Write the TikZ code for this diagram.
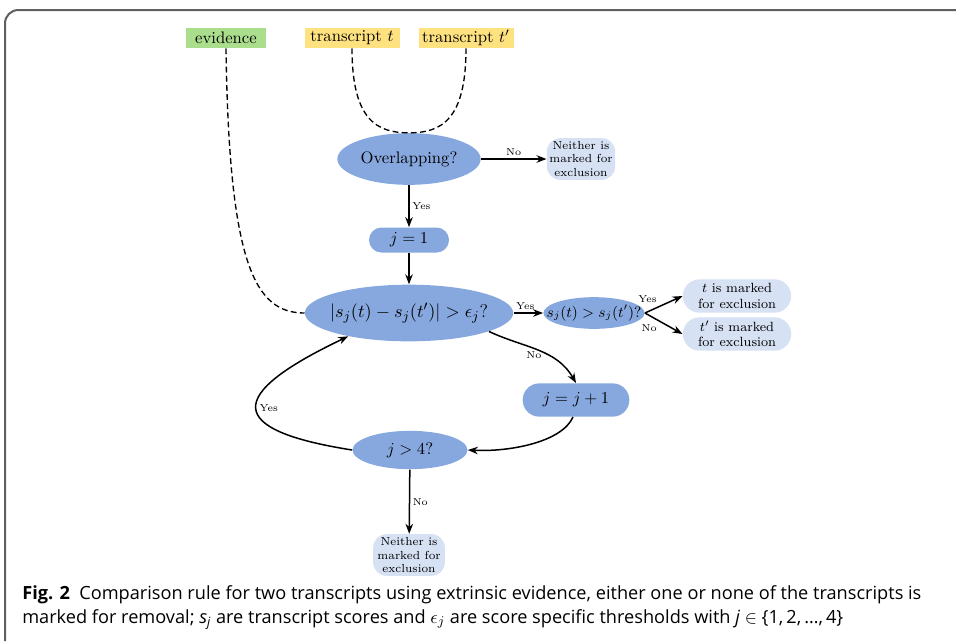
\documentclass[tikz,border=0pt]{standalone}
\usepackage{fontspec}
\newfontfamily\capfont{Open Sans}
\usetikzlibrary{shapes.geometric,arrows.meta}
\definecolor{decblue}{RGB}{134,168,222}
\definecolor{endblue}{RGB}{214,225,244}
\definecolor{evgreen}{RGB}{170,222,140}
\definecolor{tryellow}{RGB}{255,226,128}
\definecolor{framegray}{RGB}{95,95,95}
\begin{document}
\begin{tikzpicture}[x=0.6pt, y=-0.6pt,
    decision/.style={ellipse, fill=decblue, inner sep=0pt},
    process/.style={rectangle, fill=decblue, inner sep=0pt},
    outcome/.style={rectangle, fill=endblue, align=center, inner sep=0pt},
    source/.style={rectangle, inner sep=0pt, minimum height=12pt, minimum width=48pt},
    flow/.style={-{Stealth[length=6pt,width=4.5pt]}, line width=0.9pt},
    link/.style={dash pattern=on 3.5pt off 2pt, line width=0.8pt},
    lbl/.style={font=\fontsize{6}{7}\selectfont, inner sep=1.5pt}]
    \useasboundingbox (0,0) rectangle (956,641);
    \draw[framegray, line width=1.2pt, rounded corners=8pt] (5,641) -- (5,10) -- (956,10);

    % Nodes (inputs)
    \node[source, fill=evgreen] (evidence) at (226,38) {evidence};
    \node[source, fill=tryellow, minimum width=57pt] (tt) at (352,38) {transcript $t$};
    \node[source, fill=tryellow, minimum width=57pt] (ttp) at (466,38) {transcript $t'$};

    % Nodes (decisions and steps)
    \node[decision, minimum width=86pt, minimum height=31pt] (overlap) at (409,159) {Overlapping?};
    \node[outcome, font=\scriptsize, minimum width=41pt, minimum height=25pt, rounded corners=8pt] (neither) at (581,159) {Neither is\\marked for\\exclusion};
    \node[process, minimum width=48pt, minimum height=15pt, rounded corners=7.5pt] (jone) at (409,240) {$j=1$};
    \node[decision, font=\fontsize{11}{13}\selectfont, minimum width=125pt, minimum height=34pt, inner xsep=-5pt] (diff) at (409,313) {$|s_j(t)-s_j(t')|>\epsilon_j$?};
    \node[decision, font=\small, minimum width=60pt, minimum height=19pt, inner xsep=-7pt] (cmp) at (594,313) {$s_j(t)>s_j(t')$?};
    \node[outcome, font=\footnotesize, minimum width=65pt, minimum height=20pt, rounded corners=10pt] (tmark) at (737,296) {$t$ is marked\\for exclusion};
    \node[outcome, font=\footnotesize, minimum width=65pt, minimum height=20pt, rounded corners=10pt] (tpmark) at (737,334) {$t'$ is marked\\for exclusion};
    \node[process, minimum width=64pt, minimum height=20pt, rounded corners=10pt] (incr) at (576,400) {$j=j+1$};
    \node[decision, minimum width=69pt, minimum height=23pt] (jcheck) at (410,450) {$j>4$?};
    \node[outcome, font=\scriptsize, minimum width=43pt, minimum height=25pt, rounded corners=8pt] (neitherb) at (409,555) {Neither is\\marked for\\exclusion};

    % Edges (dashed inputs)
    \draw[link] (evidence.south) .. controls (229,265) and (255,313) .. (diff.west);
    \draw[link] (tt.south) .. controls +(0,72) and +(-32,0) .. (overlap.north) .. controls +(32,0) and +(0,72) .. (ttp.south);

    % Edges (flow)
    \draw[flow] (overlap) -- node[lbl, above] {No} (neither);
    \draw[flow] (overlap) -- node[lbl, right] {Yes} (jone);
    \draw[flow] (jone) -- (diff);
    \draw[flow] (diff) -- node[lbl, above, pos=0.4] {Yes} (cmp);
    \draw[flow] (cmp.east) -- node[lbl, above left, pos=0.4] {Yes} (tmark.west);
    \draw[flow] (cmp.east) -- node[lbl, below left, pos=0.4] {No} (tpmark.west);
    \draw[flow] (diff.-13) to[out=-25, in=120] node[lbl, below, pos=0.45] {No} (incr.north);
    \draw[flow] (incr.-100) .. controls (562,442) and (510,452) .. (jcheck.east);
    \draw[flow] (jcheck.west) .. controls (225,430) and (225,395) .. node[lbl, right, pos=0.5] {Yes} (diff.-159);
    \draw[flow] (jcheck) -- node[lbl, right] {No} (neitherb);

    % Caption
    \node[anchor=base west, inner sep=0pt, font=\capfont\fontsize{10.9}{13}\selectfont] (capone) at (22,599) {\textbf{Fig. 2}\ \ Comparison rule for two transcripts using extrinsic evidence, either one or none of the transcripts is};
    \node[anchor=base west, inner sep=0pt, font=\capfont\fontsize{10.9}{13}\selectfont] (captwo) at (22,623) {marked for removal; \textit{s}\textsubscript{\textit{j}} are transcript scores and $\epsilon_j$ are score specific thresholds with \textit{j} $\in$ \{1,\,2,\,\ldots,\,4\}};
\end{tikzpicture}
\end{document}
